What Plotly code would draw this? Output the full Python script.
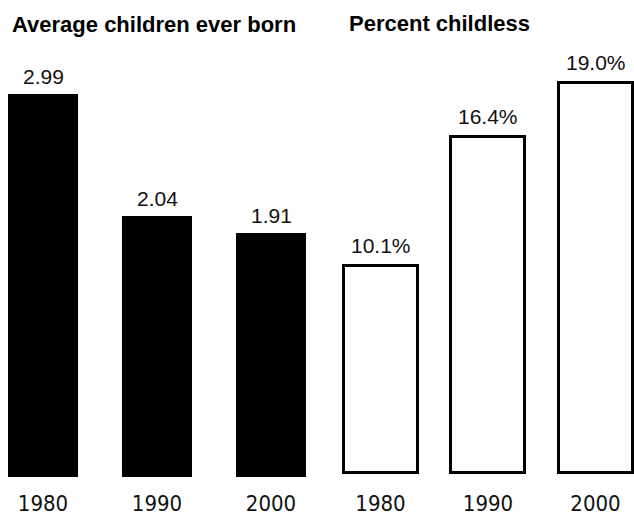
import plotly.graph_objects as go

# ---- data ----
years = ["1980", "1990", "2000"]
avg_children = [2.99, 2.04, 1.91]
avg_labels = ["2.99", "2.04", "1.91"]
pct_childless = [10.1, 16.4, 19.0]
pct_labels = ["10.1%", "16.4%", "19.0%"]
title_left = "Average children ever born"
title_right = "Percent childless"

W, H = 634, 516

# ---- layout geometry (pixels) ----
plot_top_px = 40
plot_bot_px = 480
# left panel: zero at 477px, 128 px per unit
l_zero, l_scale = 477.0, 128.0
# right panel: zero at 473.2px, 20.52 px per percent
r_zero, r_scale = 473.2, 20.52

l_range_y = [-(plot_bot_px - l_zero) / l_scale, (l_zero - plot_top_px) / l_scale]
r_range_y = [-(plot_bot_px - r_zero) / r_scale, (r_zero - plot_top_px) / r_scale]
ydom = [(H - plot_bot_px) / H, (H - plot_top_px) / H]

# x: left centers at 43 + k*114 px, panel 0..320
l_x0, l_dx = 43.0, 114.0
r_x0, r_dx = 380.5, 107.5
split = 320
l_range_x = [(0 - l_x0) / l_dx, (split - l_x0) / l_dx]
r_range_x = [(split - r_x0) / r_dx, (W - r_x0) / r_dx]

fig = go.Figure()
fig.add_trace(go.Bar(
    x=years, y=avg_children, xaxis="x", yaxis="y",
    marker=dict(color="black", line=dict(width=0)),
    width=70 / l_dx, hoverinfo="skip", showlegend=False,
))
fig.add_trace(go.Bar(
    x=years, y=pct_childless, xaxis="x2", yaxis="y2",
    marker=dict(color="white", line=dict(color="black", width=3)),
    width=74 / r_dx, hoverinfo="skip", showlegend=False,
))

tick_font = dict(family="Liberation Sans Narrow, DejaVu Sans Condensed, sans-serif",
                 size=22, color="#111111")
common_x = dict(type="category", showgrid=False, zeroline=False, showline=False,
                ticks="", tickfont=tick_font, fixedrange=True, automargin=False)
common_y = dict(showgrid=False, zeroline=False, showline=False, automargin=False,
                showticklabels=False, ticks="", fixedrange=True, domain=ydom)

annotations = []
val_font = dict(family="Liberation Sans, Arial, sans-serif", size=21, color="#111111")
for i, (v, t) in enumerate(zip(avg_children, avg_labels)):
    annotations.append(dict(x=i, y=v, xref="x", yref="y", text=t, showarrow=False,
                            xanchor="center", yanchor="bottom", yshift=4, font=val_font))
for i, (v, t) in enumerate(zip(pct_childless, pct_labels)):
    annotations.append(dict(x=i, y=v, xref="x2", yref="y2", text=t, showarrow=False,
                            xanchor="center", yanchor="bottom", yshift=7, font=val_font))

title_font = dict(family="Liberation Sans, Arial, sans-serif", size=22, color="black")
annotations.append(dict(x=10 / W, y=1 - 25 / H, xref="paper", yref="paper",
                        text="<b>" + title_left + "</b>", showarrow=False,
                        xanchor="left", yanchor="middle", font=title_font))
annotations.append(dict(x=347 / W, y=1 - 24 / H, xref="paper", yref="paper",
                        text="<b>" + title_right + "</b>", showarrow=False,
                        xanchor="left", yanchor="middle", font=title_font))

fig.update_layout(
    width=W, height=H,
    margin=dict(l=0, r=0, t=0, b=0, autoexpand=False),
    paper_bgcolor="white", plot_bgcolor="white",
    bargap=0,
    xaxis=dict(common_x, domain=[0, split / W], range=l_range_x, anchor="y",
               ticklabelstandoff=8),
    yaxis=dict(common_y, range=l_range_y, anchor="x"),
    xaxis2=dict(common_x, domain=[split / W, 1], range=r_range_x, anchor="y2",
                ticklabelstandoff=8),
    yaxis2=dict(common_y, range=r_range_y, anchor="x2"),
    annotations=annotations,
)

fig.write_html("out.html")
